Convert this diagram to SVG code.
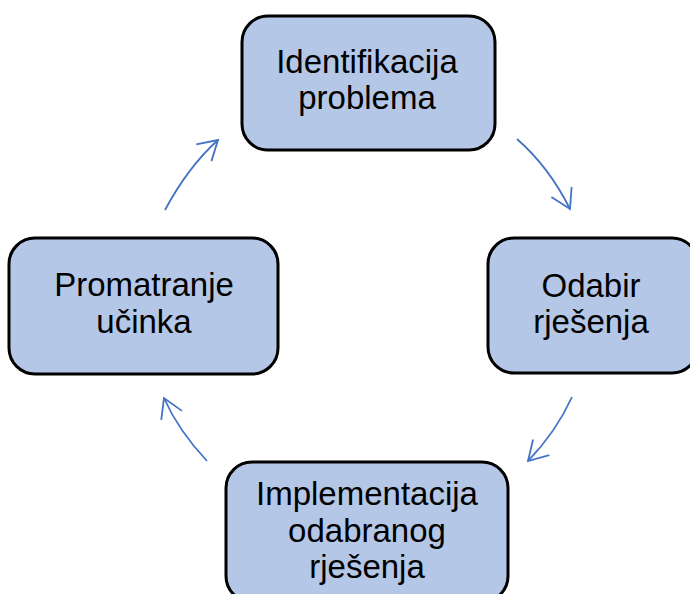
<svg xmlns="http://www.w3.org/2000/svg" width="690" height="594" viewBox="0 0 690 594">
  <defs>
    <style>
      .box { fill: #B4C7E7; stroke: #000; stroke-width: 3; }
      .lbl { font-family: "Liberation Sans", Arial, sans-serif; font-size: 33px; fill: #000; text-anchor: middle; }
      .conn { fill: none; stroke: #4472C4; stroke-width: 1.8; marker-end: url(#arr); }
    </style>
    <marker id="arr" markerUnits="userSpaceOnUse" markerWidth="30" markerHeight="30" viewBox="-22 -15 26 30" refX="0" refY="0" orient="auto">
      <path d="M -19 -11.3 L 0 0 L -19 11.3" fill="none" stroke="#4472C4" stroke-width="1.8"/>
    </marker>
  </defs>
  <rect width="690" height="594" fill="#fff"/>
  <g id="n1">
    <rect class="box" x="242" y="16" width="253" height="134" rx="26"/>
    <text class="lbl" x="367" y="73">Identifikacija</text>
    <text class="lbl" x="367" y="109">problema</text>
  </g>
  <g id="n2">
    <rect class="box" x="488" y="238" width="210" height="135" rx="26"/>
    <text class="lbl" x="591" y="297">Odabir</text>
    <text class="lbl" x="591" y="333">rješenja</text>
  </g>
  <g id="n3">
    <rect class="box" x="226" y="462" width="282" height="140" rx="26"/>
    <text class="lbl" x="367" y="505">Implementacija</text>
    <text class="lbl" x="367" y="542">odabranog</text>
    <text class="lbl" x="367" y="578">rješenja</text>
  </g>
  <g id="n4">
    <rect class="box" x="9" y="238" width="269" height="136" rx="26"/>
    <text class="lbl" x="144" y="296">Promatranje</text>
    <text class="lbl" x="144" y="333">učinka</text>
  </g>
  <g id="connectors">
    <path class="conn" d="M 517 139 Q 549 167 570 209"/>
    <path class="conn" d="M 572 397 Q 556 432 528 461"/>
    <path class="conn" d="M 207 461 Q 178 430 164 398"/>
    <path class="conn" d="M 165 210 Q 188 167 218 140"/>
  </g>
</svg>
